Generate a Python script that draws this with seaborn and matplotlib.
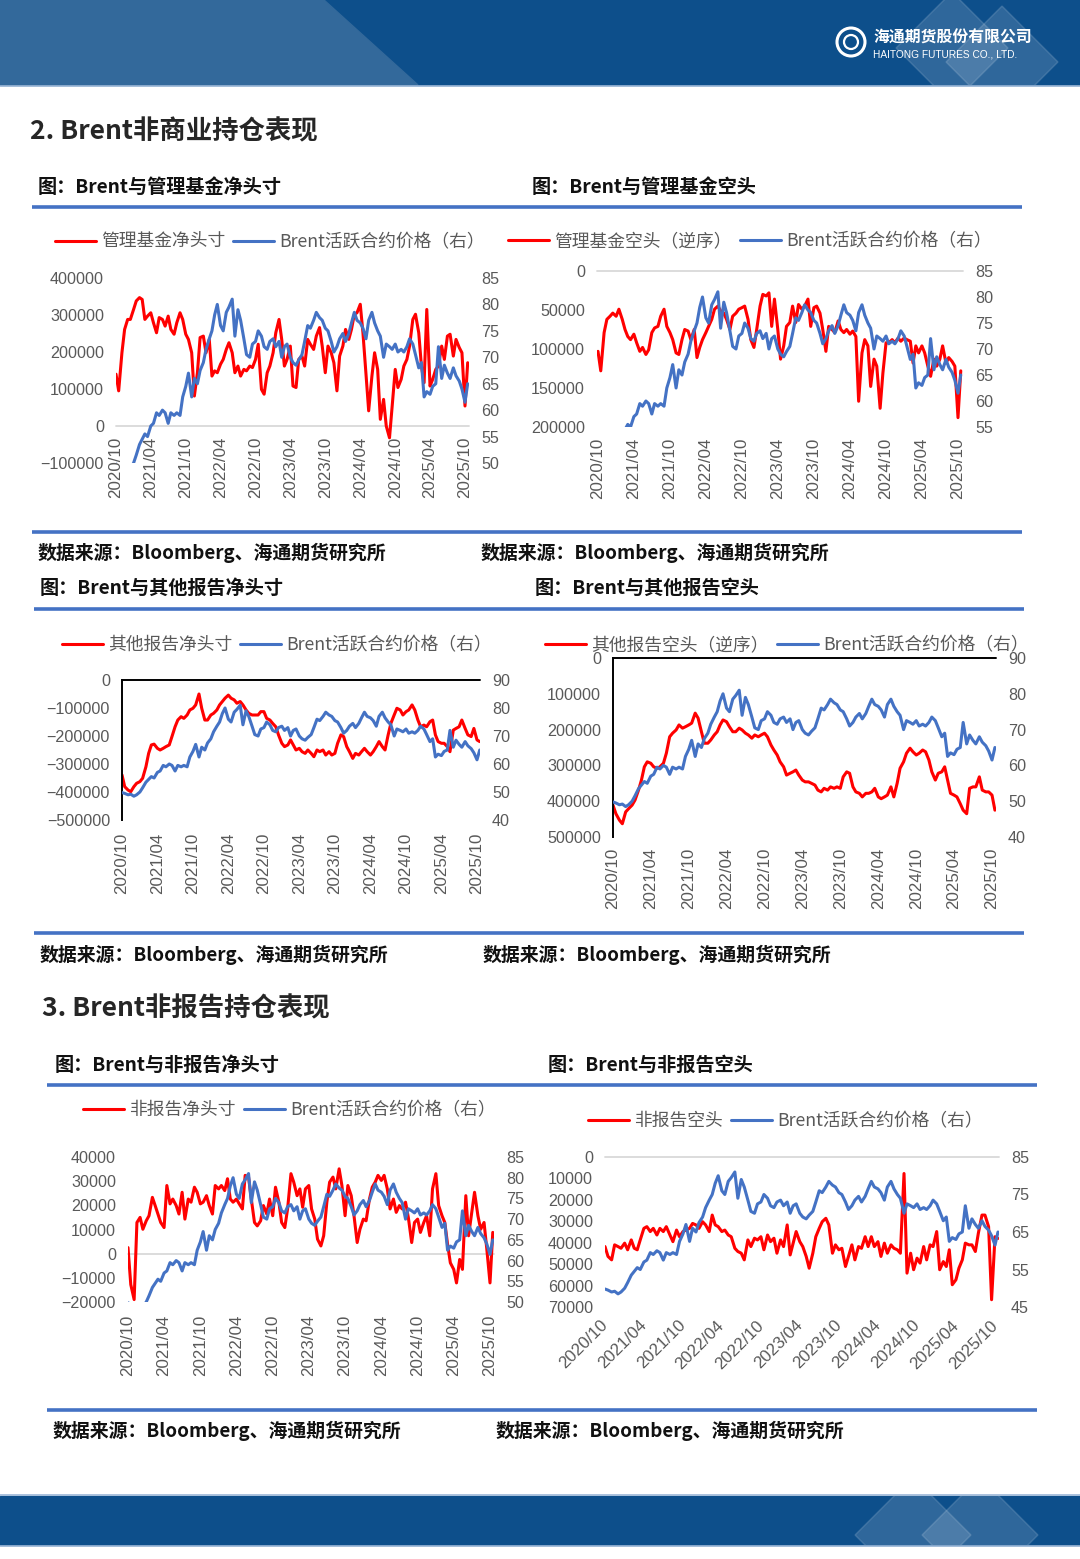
import matplotlib
matplotlib.use('Agg')
import pandas as pd
import matplotlib.pyplot as plt
import matplotlib.dates as mdates
from matplotlib.patches import Polygon, Rectangle, Circle
from matplotlib.ticker import FuncFormatter
import seaborn as sns

sns.set_style('white')
plt.rcParams['font.family'] = ['Noto Sans CJK SC', 'DejaVu Sans']
plt.rcParams['axes.unicode_minus'] = True

W, H = 1080, 1559
RED = '#FF0000'
BLUE = '#4472C4'
GREY_TXT = '#595959'
NUM_FONT = ['Liberation Sans', 'DejaVu Sans']

# semi-monthly observations 2020/10 - 2025/10
dates = pd.date_range('2020-10-01', periods=122, freq='SMS')
date_ticks = pd.date_range('2020-10-01', '2025-10-01', freq='6MS')
date_labels = [d.strftime('%Y/%m') for d in date_ticks]

# Brent active contract price (right axis)
brent = [49.8, 49.5, 49.0, 49.2, 48.5, 49.0, 50.0, 51.5, 53.5, 54.5,
         55.5, 55.0, 57.0, 57.5, 59.5, 59.0, 60.0, 59.5, 57.5, 59.5,
         59.0, 59.5, 59.0, 62.5, 64.5, 67.0, 62.5, 66.0, 65.0, 67.5,
         69.0, 71.5, 73.5, 75.0, 78.0, 80.0, 76.0, 75.0, 78.5, 79.5,
         81.0, 74.0, 79.0, 77.0, 73.5, 70.5, 70.0, 72.5, 73.0, 75.0,
         74.0, 72.0, 71.5, 73.0, 73.5, 72.0, 73.0, 70.0, 72.0, 72.5,
         70.0, 69.0, 68.5, 69.5, 70.5, 73.0, 76.0, 75.5, 77.0, 78.5,
         77.5, 77.0, 75.5, 75.0, 73.0, 71.0, 72.0, 73.5, 74.5, 73.0,
         74.5, 76.5, 78.5, 77.0, 76.5, 75.5, 73.5, 77.0, 78.5, 76.5,
         75.0, 74.0, 70.0, 72.5, 72.0, 71.5, 72.5, 71.0, 71.5, 71.0,
         72.0, 73.5, 72.5, 70.5, 68.0, 69.0, 62.5, 63.5, 63.0, 64.5,
         65.0, 72.0, 66.0, 68.5, 67.0, 66.0, 68.0, 66.5, 65.5, 64.0, 61.5, 65.0]

# managed money net position
mm_net = [140000, 95000, 198000, 261000, 288000, 288000, 315000, 338000, 347000, 342000,
          288000, 297000, 306000, 279000, 252000, 293000, 288000, 270000, 297000, 261000,
          248000, 279000, 306000, 288000, 248000, 234000, 198000, 81000, 144000, 239000,
          243000, 198000, 234000, 135000, 149000, 144000, 167000, 180000, 207000, 225000,
          198000, 144000, 162000, 135000, 153000, 149000, 162000, 158000, 180000, 221000,
          99000, 86000, 144000, 162000, 198000, 252000, 288000, 234000, 162000, 180000,
          216000, 108000, 104000, 180000, 189000, 162000, 234000, 221000, 207000, 243000,
          266000, 216000, 144000, 216000, 198000, 171000, 95000, 189000, 216000, 261000,
          234000, 261000, 302000, 306000, 329000, 252000, 140000, 41000, 135000, 198000,
          153000, 18000, 72000, 0, -32000, 54000, 153000, 104000, 126000, 162000,
          180000, 216000, 288000, 302000, 252000, 162000, 117000, 315000, 108000, 126000,
          153000, 162000, 216000, 180000, 243000, 248000, 189000, 234000, 212000, 198000, 54000, 171000]

# managed money short (reversed axis)
mm_short = [103000, 128000, 79000, 62000, 58000, 54000, 58000, 49000, 62000, 75000,
            84000, 88000, 81000, 92000, 103000, 98000, 107000, 101000, 79000, 73000,
            71000, 58000, 49000, 71000, 79000, 88000, 105000, 107000, 88000, 75000,
            77000, 88000, 75000, 111000, 98000, 88000, 79000, 71000, 62000, 49000,
            45000, 51000, 54000, 62000, 75000, 58000, 54000, 49000, 47000, 45000,
            62000, 88000, 98000, 75000, 45000, 30000, 32000, 28000, 71000, 36000,
            75000, 113000, 96000, 71000, 66000, 45000, 66000, 43000, 49000, 45000,
            36000, 71000, 47000, 45000, 54000, 75000, 103000, 71000, 75000, 79000,
            64000, 75000, 79000, 75000, 81000, 77000, 84000, 167000, 105000, 88000,
            96000, 148000, 113000, 122000, 176000, 131000, 92000, 92000, 88000, 92000,
            86000, 90000, 86000, 88000, 90000, 118000, 96000, 105000, 96000, 105000,
            122000, 135000, 113000, 122000, 113000, 96000, 118000, 111000, 116000, 122000, 188000, 128000]

# other reportables net position
other_net = [-339000, -381000, -393000, -399000, -381000, -369000, -363000, -351000, -310000, -262000,
             -232000, -229000, -244000, -250000, -244000, -238000, -232000, -202000, -167000, -143000,
             -131000, -137000, -125000, -107000, -101000, -89000, -50000, -101000, -143000, -143000,
             -125000, -119000, -107000, -89000, -77000, -65000, -54000, -65000, -71000, -83000,
             -77000, -89000, -107000, -119000, -125000, -125000, -125000, -113000, -113000, -137000,
             -143000, -155000, -167000, -196000, -226000, -238000, -232000, -214000, -232000, -250000,
             -244000, -256000, -262000, -250000, -262000, -274000, -250000, -256000, -250000, -268000,
             -256000, -268000, -262000, -226000, -196000, -202000, -238000, -256000, -280000, -262000,
             -268000, -256000, -244000, -256000, -268000, -256000, -238000, -220000, -238000, -250000,
             -196000, -155000, -125000, -101000, -107000, -125000, -113000, -107000, -89000, -107000,
             -143000, -167000, -161000, -167000, -149000, -143000, -196000, -220000, -226000, -226000,
             -238000, -256000, -179000, -173000, -167000, -143000, -173000, -196000, -202000, -173000, -214000, -220000]

# other reportables short (reversed axis)
other_short = [411000, 435000, 453000, 463000, 430000, 421000, 411000, 397000, 369000, 341000,
               304000, 290000, 294000, 304000, 308000, 304000, 294000, 266000, 220000, 210000,
               201000, 187000, 196000, 192000, 187000, 182000, 154000, 168000, 206000, 238000,
               238000, 229000, 215000, 206000, 187000, 173000, 178000, 192000, 206000, 206000,
               196000, 201000, 210000, 215000, 224000, 215000, 220000, 215000, 210000, 220000,
               243000, 257000, 271000, 290000, 304000, 327000, 322000, 318000, 313000, 327000,
               341000, 346000, 346000, 350000, 355000, 369000, 374000, 364000, 369000, 360000,
               364000, 360000, 364000, 332000, 318000, 322000, 360000, 374000, 378000, 388000,
               378000, 378000, 374000, 364000, 388000, 393000, 388000, 383000, 360000, 388000,
               350000, 308000, 290000, 266000, 252000, 262000, 271000, 266000, 257000, 262000,
               285000, 318000, 341000, 322000, 318000, 304000, 341000, 378000, 383000, 388000,
               407000, 425000, 435000, 364000, 360000, 360000, 332000, 369000, 374000, 374000, 383000, 425000]

# non-reportables net position
nonrep_net = [2500, -12800, -19000, 12900, 15000, 10100, 13600, 15700, 23300, 19900,
              16400, 12900, 10800, 28200, 20600, 22600, 19900, 16400, 25400, 14300,
              22600, 21300, 27500, 25400, 20600, 21300, 24000, 19900, 16400, 28200,
              26800, 28200, 26100, 31000, 22600, 21300, 22600, 20600, 18500, 32400,
              31700, 22600, 12900, 11500, 13600, 19900, 16400, 22600, 15700, 27500,
              21300, 12900, 10800, 18500, 33100, 29600, 24000, 26800, 19200, 26800,
              28200, 18500, 14300, 6000, 3200, 7400, 21300, 29600, 31700, 26800,
              35100, 28200, 15700, 28200, 24000, 15700, 4600, 10100, 14300, 13600,
              22600, 27500, 29600, 32400, 30300, 32400, 26800, 18500, 22600, 17100,
              19900, 18500, 21300, 15000, 4600, 12900, 14300, 8800, 12900, 15700,
              7400, 26800, 33100, 19900, 15700, 12900, 3900, -3800, -6500, -12100,
              -2400, -6500, 24000, 7400, 17100, 25400, 15700, 10100, 12900, 1800, -12100, 8800]

# non-reportables short (reversed axis)
nonrep_short = [41800, 46400, 48000, 41000, 41800, 42600, 40200, 43300, 38700, 42600,
                43300, 38700, 33300, 32500, 34800, 33300, 36400, 33300, 34800, 32500,
                36400, 39500, 34100, 37200, 34800, 34100, 33300, 31000, 31700, 33300,
                30200, 31700, 34800, 27100, 31700, 32500, 34800, 34100, 36400, 37200,
                42600, 44100, 44900, 48000, 38700, 41800, 37900, 38700, 37200, 43300,
                36400, 39500, 37900, 44900, 38700, 41800, 31700, 45700, 40200, 34800,
                39500, 41800, 46400, 51900, 44900, 37200, 33300, 30200, 28600, 31700,
                44900, 41000, 43300, 42600, 51100, 46400, 41000, 48000, 41800, 42600,
                37200, 41800, 37200, 41800, 39500, 46400, 40200, 44900, 41000, 42600,
                43300, 44900, 7700, 54200, 44900, 52600, 47200, 49500, 41800, 48000,
                41000, 41800, 34800, 52600, 48800, 51100, 43300, 59600, 57300, 51900,
                48000, 40200, 41000, 41000, 44100, 35600, 27100, 27100, 32500, 66600, 37200, 38000]

fig = plt.figure(figsize=(W / 100, H / 100), dpi=100)

# page background layer in pixel coordinates
bg = fig.add_axes([0, 0, 1, 1])
bg.set_xlim(0, W)
bg.set_ylim(H, 0)
bg.axis('off')

# header band
head = Rectangle((0, 0), W, 85, color='#0D4F8B', zorder=1)
bg.add_patch(head)
bg.add_patch(Polygon([(0, 0), (324, 0), (418, 85), (0, 85)], color='#33699B', zorder=2))
for cx, cy in [(952, 48), (1002, 62)]:
    d = Polygon([(cx - 56, cy), (cx, cy - 56), (cx + 56, cy), (cx, cy + 56)],
                color='white', alpha=0.14, zorder=2)
    bg.add_patch(d)
    d.set_clip_path(head)
bg.plot([0, W], [86, 86], color='#9DB8D8', lw=1.2, zorder=3)
bg.add_patch(Circle((851, 42), 14, fill=False, ec='white', lw=2.2, zorder=4))
bg.add_patch(Circle((851, 42), 7, fill=False, ec='white', lw=1.6, zorder=4))
bg.text(873, 38, '海通期货股份有限公司', color='white', fontsize=11.4, weight='bold',
        ha='left', va='center', zorder=4)
bg.text(873, 54, 'HAITONG FUTURES CO., LTD.', color='white', fontsize=7.3,
        family=NUM_FONT, ha='left', va='center', zorder=4)

# footer band
foot = Rectangle((0, 1496), W, 49, color='#0D4F8B', zorder=1)
bg.add_patch(foot)
for cx in [913, 980]:
    d = Polygon([(cx - 58, 1535), (cx, 1477), (cx + 58, 1535), (cx, 1593)],
                color='white', alpha=0.14, zorder=2)
    bg.add_patch(d)
    d.set_clip_path(foot)
bg.plot([0, W], [1495, 1495], color='#9DB8D8', lw=1.2, zorder=3)
bg.plot([0, W], [1546, 1546], color='#9DB8D8', lw=1.2, zorder=3)

# section titles, figure captions, separators, sources
bg.text(30, 132, '2. Brent非商业持仓表现', fontsize=19, weight='bold', ha='left', va='center')
bg.text(42, 1009, '3. Brent非报告持仓表现', fontsize=19, weight='bold', ha='left', va='center')

captions = [(38, 187, '图：Brent与管理基金净头寸'), (532, 187, '图：Brent与管理基金空头'),
            (40, 588, '图：Brent与其他报告净头寸'), (535, 588, '图：Brent与其他报告空头'),
            (55, 1065, '图：Brent与非报告净头寸'), (548, 1065, '图：Brent与非报告空头')]
for x, y, s in captions:
    bg.text(x, y, s, fontsize=13.8, weight='bold', ha='left', va='center', color='#111111')

source = '数据来源：Bloomberg、海通期货研究所'
for x, y in [(38, 553), (481, 553), (40, 955), (483, 955), (53, 1431), (496, 1431)]:
    bg.text(x, y, source, fontsize=13.6, weight='bold', ha='left', va='center', color='#111111')

for y, xa, xb in [(207, 32, 1022), (532, 32, 1022), (609, 34, 1024), (933, 34, 1024),
                  (1085, 47, 1037), (1410, 47, 1037)]:
    bg.plot([xa, xb], [y, y], color=BLUE, lw=2.6, solid_capstyle='butt')


def num_fmt(v, pos):
    return f'{v:.0f}'.replace('-', '\u2212')


def make_chart(box, ticks_px, red, red_label, left_lim, left_ticks, right_lim, right_ticks,
               legend_xy, base='grey', xrot=90, xpad=11):
    x0, y0, x1, y1 = box
    ax = fig.add_axes([x0 / W, 1 - y1 / H, (x1 - x0) / W, (y1 - y0) / H])
    ax.patch.set_alpha(0)

    if base == 'grey':
        ax.axhline(0, color='#D9D9D9', lw=1.3, zorder=1, clip_on=False)
    sns.lineplot(x=dates, y=red, ax=ax, color=RED, lw=2.2, legend=False, errorbar=None)
    red_line = ax.lines[-1]

    ax2 = ax.twinx()
    sns.lineplot(x=dates, y=brent, ax=ax2, color=BLUE, lw=2.2, legend=False, errorbar=None)
    blue_line = ax2.lines[-1]

    # date axis placed so 2020/10 and 2025/10 land on the reference tick positions
    n0 = mdates.date2num(date_ticks[0])
    n1 = mdates.date2num(date_ticks[-1])
    t0, t1 = ticks_px
    k = (n1 - n0) / (t1 - t0)
    ax.set_xlim(n0 - (t0 - x0) * k, n1 + (x1 - t1) * k)

    ax.set_ylim(*left_lim)
    ax.set_yticks(left_ticks)
    ax.yaxis.set_major_formatter(FuncFormatter(num_fmt))
    ax2.set_ylim(*right_lim)
    ax2.set_yticks(right_ticks)
    ax2.yaxis.set_major_formatter(FuncFormatter(num_fmt))

    ax.set_xticks(date_ticks)
    if xrot == 90:
        ax.set_xticklabels(date_labels, rotation=90, ha='center', va='top')
    else:
        ax.set_xticklabels(date_labels, rotation=45, ha='right', va='center',
                           rotation_mode='anchor')

    ax.set(xlabel='', ylabel='')
    ax2.set(xlabel='', ylabel='')
    for a in (ax, ax2):
        for sp in a.spines.values():
            sp.set_visible(False)
    ax.tick_params(axis='x', length=0, pad=xpad * 0.72, labelsize=12.2, labelcolor=GREY_TXT)
    ax.tick_params(axis='y', length=0, pad=12 * 0.72, labelsize=11.6, labelcolor=GREY_TXT)
    ax2.tick_params(axis='y', length=0, pad=12 * 0.72, labelsize=11.6, labelcolor=GREY_TXT)
    for lab in ax.get_xticklabels() + ax.get_yticklabels() + ax2.get_yticklabels():
        lab.set_family(NUM_FONT)

    if base == 'black':
        ax.spines['left'].set_visible(True)
        ax.spines['left'].set_color('black')
        ax.spines['left'].set_linewidth(1.4)
        ax.axhline(0, color='black', lw=1.4, zorder=1, clip_on=False)

    fig.legend(handles=[red_line, blue_line], labels=[red_label, 'Brent活跃合约价格（右）'],
               loc='center left', bbox_to_anchor=(legend_xy[0] / W, 1 - legend_xy[1] / H),
               ncol=2, frameon=False, borderpad=0, borderaxespad=0, handlelength=2.3,
               handletextpad=0.3, columnspacing=0.45, labelcolor=GREY_TXT,
               prop={'family': ['Noto Sans CJK SC', 'DejaVu Sans'], 'size': 12.8})
    return ax, ax2


make_chart((116, 278, 469, 463), (116, 465), mm_net, '管理基金净头寸',
           (-100000, 400000), range(-100000, 400001, 100000), (50, 85), range(50, 86, 5),
           (55, 242), xpad=-26)
make_chart((597, 271, 963, 427), (598, 958), mm_short, '管理基金空头（逆序）',
           (200000, 0), range(0, 200001, 50000), (55, 85), range(55, 86, 5),
           (508, 241), xpad=11)
make_chart((122, 680, 480, 820), (122, 477), other_net, '其他报告净头寸',
           (-500000, 0), range(-500000, 1, 100000), (40, 90), range(40, 91, 10),
           (62, 645), base='black', xpad=13)
make_chart((613, 658, 996, 837), (612, 992), other_short, '其他报告空头（逆序）',
           (500000, 0), range(0, 500001, 100000), (40, 90), range(40, 91, 10),
           (545, 645), base='black', xpad=11)
make_chart((128, 1157, 494, 1302), (128, 490), nonrep_net, '非报告净头寸',
           (-20000, 40000), range(-20000, 40001, 10000), (50, 85), range(50, 86, 5),
           (83, 1110), xpad=13)
make_chart((605, 1157, 999, 1307), (605, 995), nonrep_short, '非报告空头',
           (70000, 0), range(0, 70001, 10000), (45, 85), range(45, 86, 10),
           (588, 1121), xrot=45, xpad=16)

fig.savefig('out.png', dpi=100)
